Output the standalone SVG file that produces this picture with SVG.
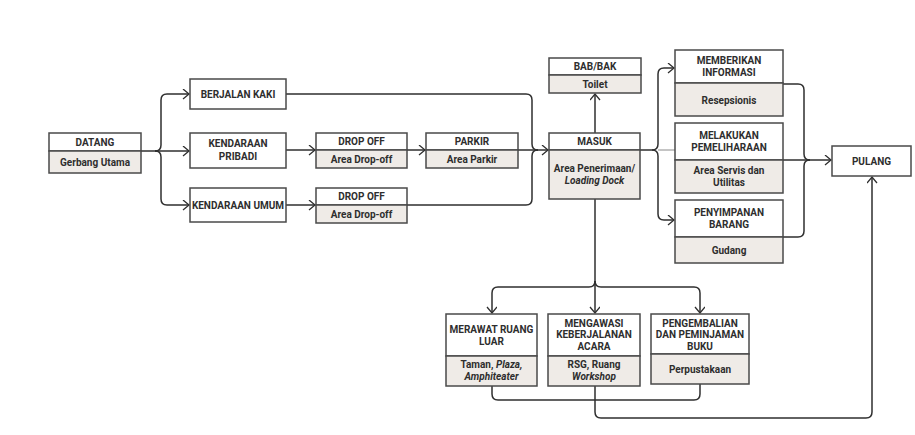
<svg xmlns="http://www.w3.org/2000/svg" width="915" height="435" viewBox="0 0 915 435">
<style>
.bx{fill:#ffffff;stroke:#4a4a4a;stroke-width:1.5}
.sub{fill:#efebe7;stroke:#4a4a4a;stroke-width:1.5}
.t{font-family:Roboto,"Liberation Sans",sans-serif;font-size:10px;font-weight:700;fill:#2e2e2e;text-anchor:middle}
.i{font-style:italic}
.c{fill:none;stroke:#2f2f2f;stroke-width:1.5}
.g{fill:none;stroke:#8a8a8a;stroke-width:1}
</style>
<defs>
<marker id="ar" markerWidth="10" markerHeight="12" refX="7" refY="5" orient="auto" markerUnits="userSpaceOnUse">
<path d="M1,0 L7,5 L1,10" fill="none" stroke="#2f2f2f" stroke-width="1.3"/>
</marker>
</defs>
<rect width="915" height="435" fill="#ffffff"/>

<g id="connectors">
<!-- DATANG branches -->
<path class="c" d="M141,151 H189" marker-end="url(#ar)"/>
<path class="c" d="M155,151 Q161,151 161,145 V100 Q161,94 167,94 H189" marker-end="url(#ar)"/>
<path class="c" d="M155,151 Q161,151 161,157 V199 Q161,205 167,205 H189" marker-end="url(#ar)"/>
<!-- to drop off -->
<path class="c" d="M286,150 H315" marker-end="url(#ar)"/>
<path class="c" d="M286,205 H315" marker-end="url(#ar)"/>
<path class="c" d="M407,150 H425" marker-end="url(#ar)"/>
<!-- to MASUK -->
<path class="c" d="M518,150 H548" marker-end="url(#ar)"/>
<path class="c" d="M286,94 H526 Q532,94 532,100 V144 Q532,150 538,150"/>
<path class="c" d="M407,205 H526 Q532,205 532,199 V156 Q532,150 538,150"/>
<!-- to BAB/BAK -->
<path class="c" d="M595,133 V94" marker-end="url(#ar)"/>
<!-- MASUK right branch -->
<path class="c" d="M640,150 H652 Q658,150 658,144 V74 Q658,68 664,68 H674" marker-end="url(#ar)"/>
<path class="c" d="M652,150 Q658,150 658,156 V214 Q658,220 664,220 H674" marker-end="url(#ar)"/>
<path class="g" d="M658,150 H675"/>
<!-- merge to PULANG -->
<path class="c" d="M783,84 H798 Q804,84 804,90 V154 Q804,160 810,160"/>
<path class="c" d="M783,237 H798 Q804,237 804,231 V166 Q804,160 810,160"/>
<path class="c" d="M783,160 H831" marker-end="url(#ar)"/>
<!-- MASUK down branch -->
<path class="c" d="M595,199 V313" marker-end="url(#ar)"/>
<path class="c" d="M595,281 Q595,287 589,287 H498 Q492,287 492,293 V313" marker-end="url(#ar)"/>
<path class="c" d="M595,281 Q595,287 601,287 H694 Q700,287 700,293 V313" marker-end="url(#ar)"/>
<!-- bottom loops -->
<path class="c" d="M492,386 V394 Q492,400 498,400 H694 Q700,400 700,394 V384"/>
<path class="c" d="M595,386 V412 Q595,418 601,418 H866 Q872,418 872,412 V177" marker-end="url(#ar)"/>
</g>

<g id="datang">
<rect class="bx" x="49" y="133" width="92" height="18"/>
<rect class="sub" x="49" y="151" width="92" height="22"/>
<text class="t" x="95" y="145.5">DATANG</text>
<text class="t" x="95" y="165.5">Gerbang Utama</text>
</g>
<g id="berjalan-kaki">
<rect class="bx" x="190" y="79" width="96" height="30"/>
<text class="t" x="238" y="97.5">BERJALAN KAKI</text>
</g>
<g id="kendaraan-pribadi">
<rect class="bx" x="190" y="133" width="96" height="35"/>
<text class="t" x="238" y="147">KENDARAAN</text>
<text class="t" x="238" y="159.5">PRIBADI</text>
</g>
<g id="kendaraan-umum">
<rect class="bx" x="190" y="188" width="96" height="34"/>
<text class="t" x="238" y="208.5">KENDARAAN UMUM</text>
</g>
<g id="drop-off-1">
<rect class="bx" x="316" y="133" width="91" height="17"/>
<rect class="sub" x="316" y="150" width="91" height="18"/>
<text class="t" x="361.5" y="145">DROP OFF</text>
<text class="t" x="361.5" y="162.5">Area Drop-off</text>
</g>
<g id="drop-off-2">
<rect class="bx" x="316" y="188" width="91" height="17"/>
<rect class="sub" x="316" y="205" width="91" height="18"/>
<text class="t" x="361.5" y="200">DROP OFF</text>
<text class="t" x="361.5" y="217.5">Area Drop-off</text>
</g>
<g id="parkir">
<rect class="bx" x="426" y="133" width="92" height="17"/>
<rect class="sub" x="426" y="150" width="92" height="18"/>
<text class="t" x="472" y="145">PARKIR</text>
<text class="t" x="472" y="162.5">Area Parkir</text>
</g>
<g id="masuk">
<rect class="bx" x="549" y="133" width="91" height="17"/>
<rect class="sub" x="549" y="150" width="91" height="49"/>
<text class="t" x="594.5" y="145">MASUK</text>
<text class="t" x="594.5" y="171.5">Area Penerimaan/</text>
<text class="t i" x="594.5" y="183.5">Loading Dock</text>
</g>
<g id="bab-bak">
<rect class="bx" x="549" y="58" width="92" height="17"/>
<rect class="sub" x="549" y="75" width="92" height="18"/>
<text class="t" x="595" y="70">BAB/BAK</text>
<text class="t" x="595" y="87.5">Toilet</text>
</g>
<g id="memberikan-informasi">
<rect class="bx" x="675" y="50" width="108" height="33"/>
<rect class="sub" x="675" y="83" width="108" height="33"/>
<text class="t" x="729" y="63.5">MEMBERIKAN</text>
<text class="t" x="729" y="76">INFORMASI</text>
<text class="t" x="729" y="103.5">Resepsionis</text>
</g>
<g id="melakukan-pemeliharaan">
<rect class="bx" x="675" y="123" width="108" height="37"/>
<rect class="sub" x="675" y="160" width="108" height="33"/>
<text class="t" x="729" y="138.5">MELAKUKAN</text>
<text class="t" x="729" y="151">PEMELIHARAAN</text>
<text class="t" x="729" y="173.5">Area Servis dan</text>
<text class="t" x="729" y="186">Utilitas</text>
</g>
<g id="penyimpanan-barang">
<rect class="bx" x="675" y="200" width="108" height="37"/>
<rect class="sub" x="675" y="237" width="108" height="26"/>
<text class="t" x="729" y="216">PENYIMPANAN</text>
<text class="t" x="729" y="228">BARANG</text>
<text class="t" x="729" y="254">Gudang</text>
</g>
<g id="pulang">
<rect class="bx" x="832" y="146" width="79" height="30"/>
<text class="t" x="871.5" y="164.5">PULANG</text>
</g>
<g id="merawat-ruang-luar">
<rect class="bx" x="446" y="314" width="91" height="42"/>
<rect class="sub" x="446" y="356" width="91" height="30"/>
<text class="t" x="491.5" y="332.5">MERAWAT RUANG</text>
<text class="t" x="491.5" y="344.5">LUAR</text>
<text class="t" x="491.5" y="367.5">Taman, <tspan class="i">Plaza,</tspan></text>
<text class="t i" x="491.5" y="379.5">Amphiteater</text>
</g>
<g id="mengawasi">
<rect class="bx" x="548" y="314" width="92" height="42"/>
<rect class="sub" x="548" y="356" width="92" height="30"/>
<text class="t" x="594" y="326.5">MENGAWASI</text>
<text class="t" x="594" y="338">KEBERJALANAN</text>
<text class="t" x="594" y="350">ACARA</text>
<text class="t" x="594" y="367.5">RSG, Ruang</text>
<text class="t i" x="594" y="379.5">Workshop</text>
</g>
<g id="pengembalian">
<rect class="bx" x="651" y="314" width="98" height="40"/>
<rect class="sub" x="651" y="354" width="98" height="30"/>
<text class="t" x="700" y="326.5">PENGEMBALIAN</text>
<text class="t" x="700" y="338">DAN PEMINJAMAN</text>
<text class="t" x="700" y="350">BUKU</text>
<text class="t" x="700" y="372.5">Perpustakaan</text>
</g>
</svg>
